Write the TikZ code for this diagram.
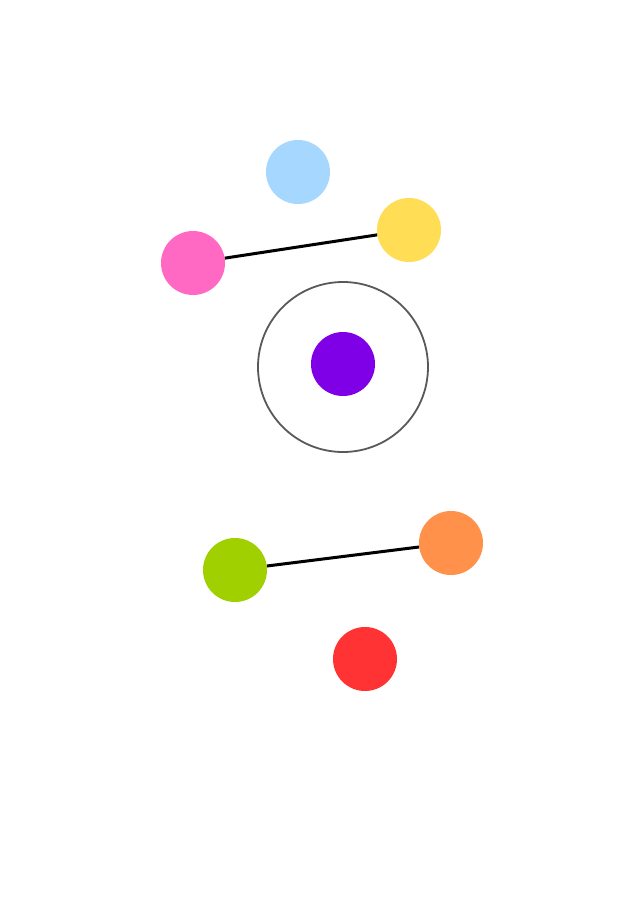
\documentclass[tikz,border=0pt]{standalone}
\begin{document}
\begin{tikzpicture}[x=1pt,y=-1pt,
  dot/.style={circle,minimum size=64pt,inner sep=0pt,draw=none},
  link/.style={line width=3pt,black}]
\useasboundingbox[fill=white] (0,0) rectangle (636,900);
\definecolor{cblue}{HTML}{A6D8FF}
\definecolor{cyellow}{HTML}{FFDD55}
\definecolor{cpink}{HTML}{FF69C4}
\definecolor{cpurple}{HTML}{7F00E6}
\definecolor{cgreen}{HTML}{A0D000}
\definecolor{corange}{HTML}{FF914A}
\definecolor{cred}{HTML}{FF3333}
\begin{scope}[shift={(1,1)}]
\node[circle,minimum size=170pt,inner sep=0pt,draw=black!65,line width=1.8pt] (ring) at (342,366) {};
\node[dot,fill=cblue] (blue) at (297,171) {};
\node[dot,fill=cyellow] (yellow) at (408,229) {};
\node[dot,fill=cpink] (pink) at (192,262) {};
\node[dot,fill=cpurple] (purple) at (342,363) {};
\node[dot,fill=cgreen] (green) at (234,569) {};
\node[dot,fill=corange] (orange) at (450,542) {};
\node[dot,fill=cred] (red) at (364,658) {};
\draw[link] (pink) -- (yellow);
\draw[link] (green) -- (orange);
\end{scope}
\end{tikzpicture}
\end{document}
